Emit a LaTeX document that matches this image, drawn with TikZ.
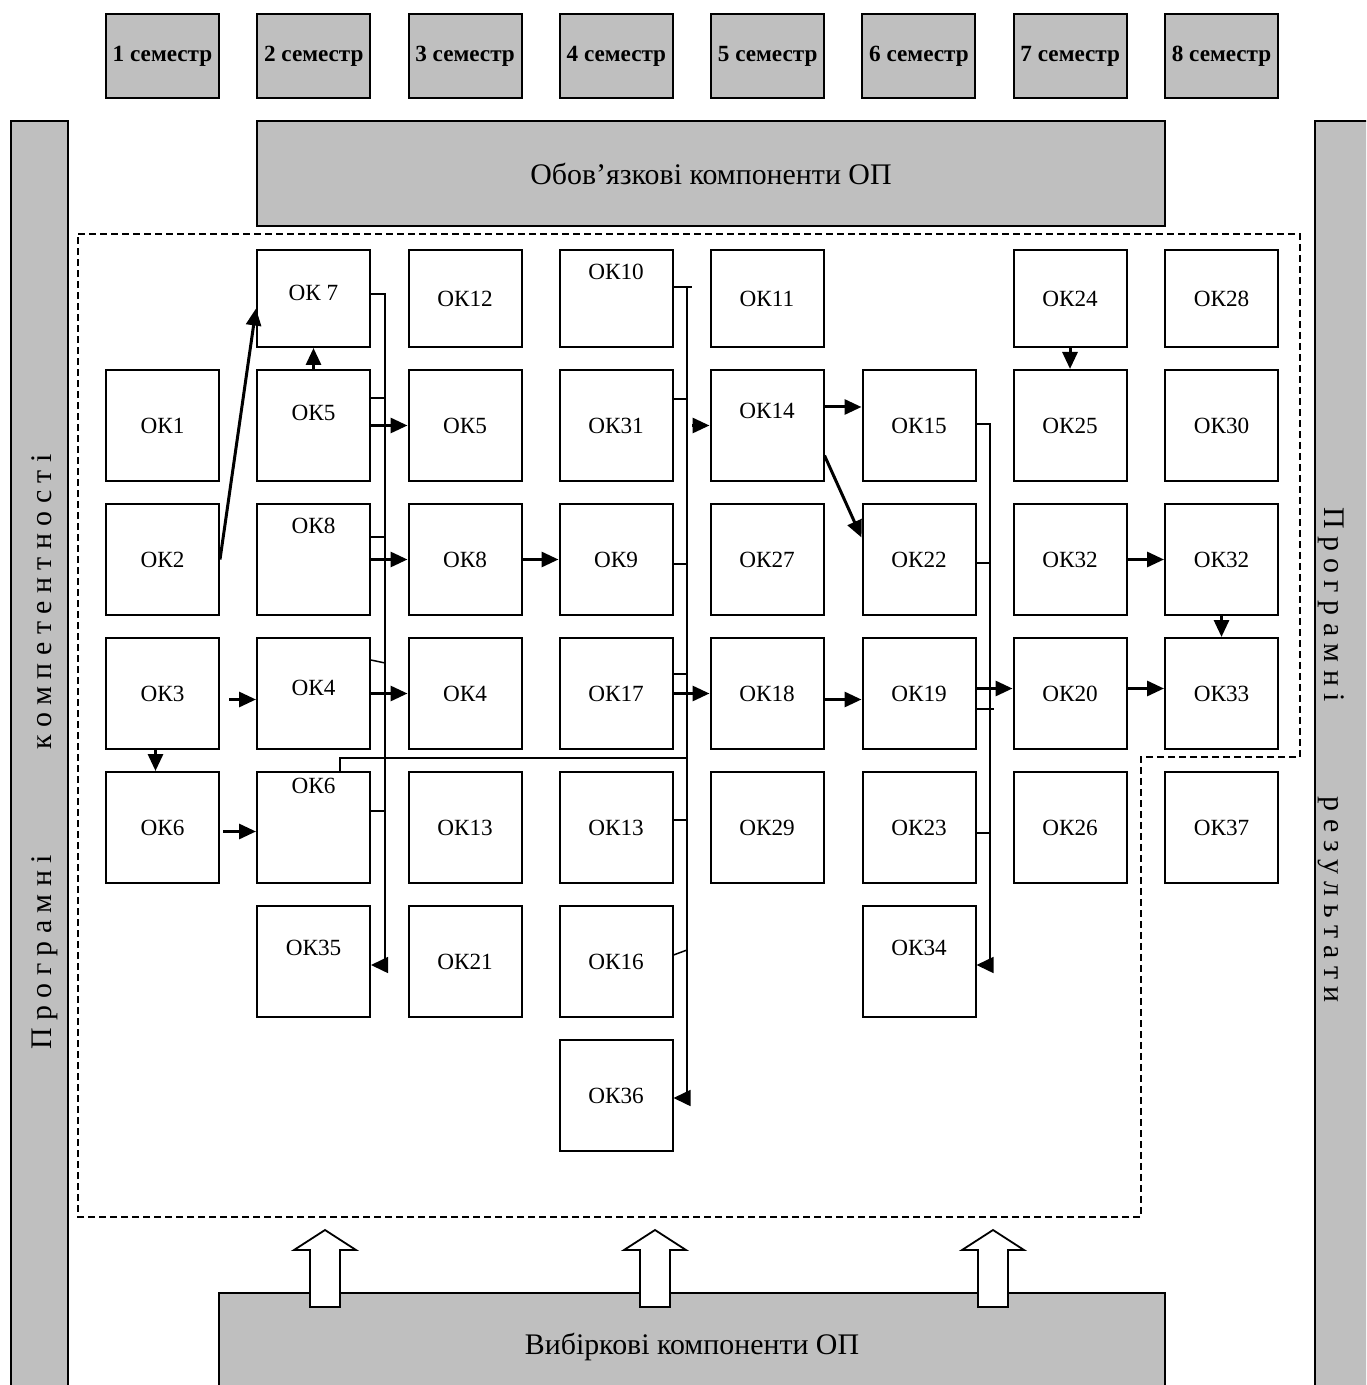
\documentclass[tikz,border=0pt]{standalone}
\usepackage{fontspec}
\setmainfont{Liberation Serif}
\usetikzlibrary{arrows.meta}
\tikzset{
  sem/.style   ={draw,fill=black!25,line width=0.2mm,minimum width=11.3mm,minimum height=8.4mm,inner sep=0pt,font=\fontsize{6.6}{8}\selectfont\bfseries},
  bar/.style   ={draw,fill=black!25,line width=0.2mm},
  bartxt/.style={font=\fontsize{8.5}{10}\selectfont,inner sep=1pt},
  okbox/.style ={draw,line width=0.2mm,minimum width=11.3mm,minimum height=11.1mm,inner sep=0pt,font=\fontsize{6.6}{8}\selectfont},
  low/.style   ={minimum height=9.7mm},
  ar/.style    ={-{Triangle[length=1.7mm,width=1.5mm]},line width=0.3mm},
  bus/.style   ={line width=0.15mm},
  busar/.style ={bus,-{Triangle[length=1.7mm,width=1.6mm]}},
  zone/.style  ={line width=0.15mm,dash pattern=on 0.7mm off 0.4mm},
  hollow/.style={draw,fill=white,line width=0.18mm,line join=miter},
}
\begin{document}
\begin{tikzpicture}[x=0.1mm,y=-0.1mm]
  \clip (0,0) rectangle (1366,1385);
  \foreach \i in {1,...,8}
    \node[sem] (s\i) at ({162.5+151.29*(\i-1)},56) {\i\ семестр};
  \draw[bar] (11,121) rectangle (68,1400);
  \draw[bar] (1315,121) rectangle (1380,1400);
  \node[bartxt,rotate=90] (pkomp) at (45,752) {П р о г р а м н і\hspace{10.5mm}к о м п е т е н т н о с т і};
  \node[bartxt,rotate=-90] (prez) at (1331,755) {П р о г р а м н і\hspace{9.5mm}р е з у л ь т а т и};
  \node[bar,bartxt,minimum width=90.8mm,minimum height=10.5mm] (oblig) at (711,173.5) {Обов’язкові компоненти ОП};
  \node[bar,bartxt,minimum width=94.6mm,minimum height=10.7mm] (vybir) at (692,1346.5) {Вибіркові компоненти ОП};
  \draw[zone] (78,234) -- (1300,234) -- (1300,757) -- (1141,757) -- (1141,1217) -- (78,1217) -- cycle;

  \node[okbox,low,text depth=1.2mm] (ok7) at (313.5,298.5) {ОК 7};
  \node[okbox,low] (ok12) at (465,298.5) {ОК12};
  \node[okbox,low,text depth=5.4mm] (ok10) at (616,298.5) {ОК10};
  \node[okbox,low] (ok11) at (767,298.5) {ОК11};
  \node[okbox,low] (ok24) at (1070,298.5) {ОК24};
  \node[okbox,low] (ok28) at (1221.5,298.5) {ОК28};

  \node[okbox] (ok1) at (162.5,425.5) {ОК1};
  \node[okbox,text depth=2.6mm] (ok5a) at (313.5,425.5) {ОК5};
  \node[okbox] (ok5b) at (465,425.5) {ОК5};
  \node[okbox] (ok31) at (616,425.5) {ОК31};
  \node[okbox,text depth=2.9mm] (ok14) at (767,425.5) {ОК14};
  \node[okbox] (ok15) at (919,425.5) {ОК15};
  \node[okbox] (ok25) at (1070,425.5) {ОК25};
  \node[okbox] (ok30) at (1221.5,425.5) {ОК30};

  \node[okbox] (ok2) at (162.5,559.5) {ОК2};
  \node[okbox,text depth=6.7mm] (ok8a) at (313.5,559.5) {ОК8};
  \node[okbox] (ok8b) at (465,559.5) {ОК8};
  \node[okbox] (ok9) at (616,559.5) {ОК9};
  \node[okbox] (ok27) at (767,559.5) {ОК27};
  \node[okbox] (ok22) at (919,559.5) {ОК22};
  \node[okbox] (ok32a) at (1070,559.5) {ОК32};
  \node[okbox] (ok32b) at (1221.5,559.5) {ОК32};

  \node[okbox] (ok3) at (162.5,693.5) {ОК3};
  \node[okbox,text depth=1.1mm] (ok4a) at (313.5,693.5) {ОК4};
  \node[okbox] (ok4b) at (465,693.5) {ОК4\hspace{1.7mm}};
  \node[okbox] (ok17) at (616,693.5) {ОК17};
  \node[okbox] (ok18) at (767,693.5) {ОК18};
  \node[okbox] (ok19) at (919,693.5) {ОК19};
  \node[okbox] (ok20) at (1070,693.5) {ОК20};
  \node[okbox] (ok33) at (1221.5,693.5) {ОК33};

  \node[okbox] (ok6a) at (162.5,827.5) {ОК6};
  \node[okbox,text depth=8.3mm] (ok6b) at (313.5,827.5) {ОК6};
  \node[okbox] (ok13a) at (465,827.5) {ОК13\hspace{1.7mm}};
  \node[okbox] (ok13b) at (616,827.5) {ОК13};
  \node[okbox] (ok29) at (767,827.5) {ОК29};
  \node[okbox] (ok23) at (919,827.5) {ОК23};
  \node[okbox] (ok26) at (1070,827.5) {ОК26};
  \node[okbox] (ok37) at (1221.5,827.5) {ОК37};

  \node[okbox,text depth=2.7mm] (ok35) at (313.5,961.5) {ОК35};
  \node[okbox] (ok21) at (465,961.5) {ОК21};
  \node[okbox] (ok16) at (616,961.5) {ОК16};
  \node[okbox,text depth=2.7mm] (ok34) at (919,961.5) {ОК34};
  \node[okbox] (ok36) at (616,1095.5) {ОК36};

  \draw[ar] (ok2.east) -- ([yshift=-1mm]ok7.west);
  \draw[ar] (ok5a.north) -- (ok7.south);
  \draw[ar] (ok5a.east) -- (ok5b.west);
  \draw[ar] (ok8a.east) -- (ok8b.west);
  \draw[ar] (ok8b.east) -- (ok9.west);
  \draw[ar,shorten <=0.9mm] ([yshift=-0.6mm]ok3.east) -- ([yshift=-0.6mm]ok4a.west);
  \draw[ar] (ok4a.east) -- (ok4b.west);
  \draw[ar] ([xshift=-0.7mm]ok3.south) -- ([xshift=-0.7mm]ok6a.north);
  \draw[ar,shorten <=0.3mm] ([yshift=-0.4mm]ok6a.east) -- ([yshift=-0.4mm]ok6b.west);
  \draw[ar] (ok17.east) -- (ok18.west);
  \draw[ar] ([yshift=-0.6mm]ok18.east) -- ([yshift=-0.6mm]ok19.west);
  \draw[ar] ([yshift=0.5mm]ok19.east) -- ([yshift=0.5mm]ok20.west);
  \draw[ar] ([yshift=0.5mm]ok20.east) -- ([yshift=0.5mm]ok33.west);
  \draw[ar] ([yshift=1.85mm]ok14.east) -- ([yshift=1.85mm]ok15.west);
  \draw[ar] ([yshift=-3mm]ok14.east) -- ([yshift=2.2mm]ok22.west);
  \draw[ar] (ok24.south) -- (ok25.north);
  \draw[ar] (ok32a.east) -- (ok32b.west);
  \draw[ar] (ok32b.south) -- (ok33.north);

  \coordinate (busA) at (385,0);
  \coordinate (busB) at (687,0);
  \coordinate (busC) at (990,0);

  \draw[busar] ([yshift=0.45mm]ok7.east) -| (busA |- 0,965) -- (ok35.east |- 0,965);
  \draw[bus] (ok5a.east |- 0,398) -- (busA |- 0,398);
  \draw[bus] (ok8a.east |- 0,537) -- (busA |- 0,537);
  \draw[bus] (ok4a.east |- 0,660) -- (busA |- 0,663);
  \draw[bus] (ok6b.east |- 0,811) -- (busA |- 0,811);

  \draw[busar] (ok10.east |- 0,287) -| (busB |- 0,1098) -- (ok36.east |- 0,1098);
  \draw[bus] (busB |- 0,287) -- ++(5,0);
  \draw[bus] (ok31.east |- 0,399) -- (busB |- 0,399);
  \draw[bus] (ok9.east |- 0,564) -- (busB |- 0,564);
  \draw[bus] (ok17.east |- 0,674) -- (busB |- 0,674);
  \draw[bus] (ok13b.east |- 0,820) -- (busB |- 0,820);
  \draw[bus] (ok16.east |- 0,955) -- (busB |- 0,950);
  \draw[bus] ([xshift=2.65mm]ok6b.north) |- (busB |- 0,758);
  \draw[ar,shorten <=0.5mm] (busB |- ok14.west) -- (ok14.west);

  \draw[busar] ([yshift=0.15mm]ok15.east) -| (busC |- 0,965) -- (ok34.east |- 0,965);
  \draw[bus] (ok22.east |- 0,563) -- (busC |- 0,563);
  \draw[bus] (ok19.east |- 0,709) -- ([xshift=0.4mm]busC |- 0,709);
  \draw[bus] (ok23.east |- 0,833) -- (busC |- 0,833);

  \foreach \ax in {325,655,993}
    \draw[hollow] (\ax-15,1307) -- (\ax-15,1250) -- (\ax-31,1250) -- (\ax,1230) -- (\ax+31,1250) -- (\ax+15,1250) -- (\ax+15,1307) -- cycle;
\end{tikzpicture}
\end{document}
